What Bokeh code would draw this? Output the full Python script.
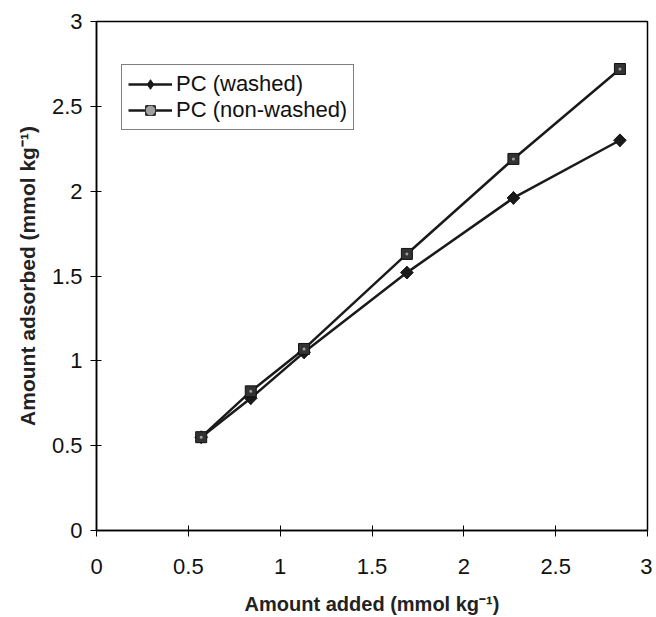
import math
from bokeh.plotting import figure
from bokeh.models import Range1d, FixedTicker, Legend, LegendItem
from bokeh.embed import file_html
from bokeh.resources import INLINE

added = [0.57, 0.84, 1.13, 1.69, 2.27, 2.85]
washed = [0.55, 0.78, 1.05, 1.52, 1.96, 2.30]
non_washed = [0.55, 0.82, 1.07, 1.63, 2.19, 2.72]
ticks = [0, 0.5, 1, 1.5, 2, 2.5, 3]
tick_labels = ["0", "0.5", "1", "1.5", "2", "2.5", "3"]

FONT = "Liberation Sans"

p = figure(frame_width=551, frame_height=509, output_backend="svg", toolbar_location=None,
           x_range=Range1d(0, 3), y_range=Range1d(0, 3),
           min_border_left=96, min_border_top=21, min_border_right=5, min_border_bottom=86,
           background_fill_color="white", border_fill_color="white")
p.grid.visible = False
p.outline_line_color = "black"
p.outline_line_width = 1.5

for ax in (p.xaxis[0], p.yaxis[0]):
    ax.ticker = FixedTicker(ticks=ticks)
    ax.major_label_overrides = {t: l for t, l in zip(ticks, tick_labels)}
    ax.minor_tick_line_color = None
    ax.major_tick_in = 5
    ax.major_tick_out = 6
    ax.axis_line_color = "black"
    ax.axis_line_width = 1.5
    ax.major_tick_line_color = "black"
    ax.major_label_text_font = FONT
    ax.major_label_text_font_size = "22px"
    ax.major_label_text_color = "#111111"
    ax.axis_label_text_font = FONT
    ax.axis_label_text_font_style = "bold"
    ax.axis_label_text_color = "#222222"

p.xaxis.axis_label = "Amount added (mmol kg⁻¹)"
p.yaxis.axis_label = "Amount adsorbed (mmol kg⁻¹)"
p.xaxis.axis_label_text_font_size = "20px"
p.yaxis.axis_label_text_font_size = "21px"
p.xaxis.major_label_standoff = 22
p.yaxis.major_label_standoff = 8
p.xaxis.axis_label_standoff = 16
p.yaxis.axis_label_standoff = 10

l1 = p.line(added, washed, line_color="#1a1a1a", line_width=2.5)
# diamond underneath (shown in the legend), rotated square on top for a wider diamond in the plot
m1_leg = p.scatter(added, washed, marker="diamond", size=12.5, fill_color="#1a1a1a", line_color="#1a1a1a")
m1 = p.scatter(added, washed, marker="square", angle=math.pi / 4, size=9,
               fill_color="#1a1a1a", line_color="#1a1a1a")
l2 = p.line(added, non_washed, line_color="#1a1a1a", line_width=2.5)
m2 = p.scatter(added, non_washed, marker="square", size=11, fill_color="#333333", line_color="#111111")
d2 = p.scatter(added, non_washed, marker="circle", size=3, fill_color="#a0a0a0", line_color=None)

legend = Legend(items=[LegendItem(label="PC (washed)", renderers=[l1, m1_leg]),
                       LegendItem(label="PC (non-washed)", renderers=[l2, m2, d2])],
                location=(25, 400))
legend.label_text_font = FONT
legend.label_text_font_size = "22px"
legend.label_text_color = "#111111"
legend.border_line_color = "black"
legend.border_line_width = 1.2
legend.glyph_width = 44
legend.glyph_height = 24
legend.label_height = 24
legend.label_standoff = 4
legend.padding = 6
legend.spacing = 0
legend.margin = 0
p.add_layout(legend, "center")

open("out.html", "w").write(file_html(p, INLINE))
